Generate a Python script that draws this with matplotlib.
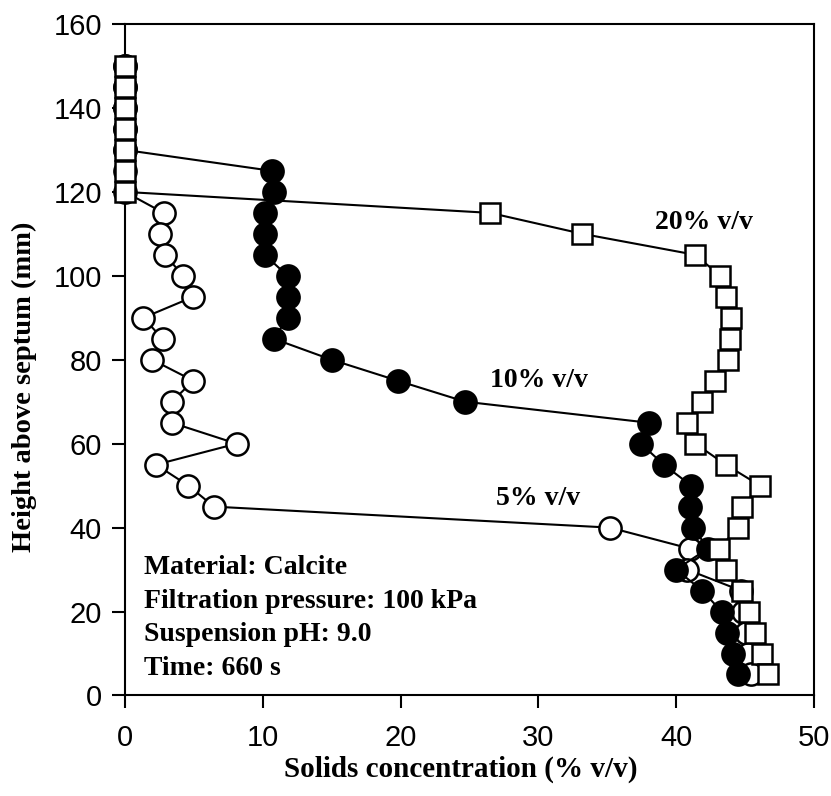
import numpy as np
import matplotlib
matplotlib.use('Agg')
import matplotlib.pyplot as plt

# heights above septum (mm) and solids concentration (% v/v) per feed concentration
h_5 = [150, 145, 140, 135, 130, 125, 120, 115, 110, 105, 100, 95, 90, 85, 80, 75,
       70, 65, 60, 55, 50, 45, 40, 35, 30, 25, 20, 15, 10, 5]
c_5 = [0, 0, 0, 0, 0, 0, 0, 2.8, 2.55, 2.9, 4.23, 4.96, 1.33, 2.73, 1.98, 4.96,
       3.39, 3.39, 8.1, 2.25, 4.6, 6.46, 35.2, 41.0, 40.8, 44.7, 44.85, 45.1, 45.2, 45.4]

h_10 = [150, 145, 140, 135, 130, 125, 120, 115, 110, 105, 100, 95, 90, 85, 80, 75,
        70, 65, 60, 55, 50, 45, 40, 35, 30, 25, 20, 15, 10, 5]
c_10 = [0, 0, 0, 0, 0, 10.7, 10.8, 10.15, 10.15, 10.15, 11.8, 11.8, 11.8, 10.8, 15.0, 19.8,
        24.7, 38.0, 37.45, 39.1, 41.1, 41.0, 41.25, 42.3, 40.0, 41.9, 43.3, 43.7, 44.1, 44.5]

h_20 = [150, 145, 140, 135, 130, 125, 120, 115, 110, 105, 100, 95, 90, 85, 80, 75,
        70, 65, 60, 55, 50, 45, 40, 35, 30, 25, 20, 15, 10, 5]
c_20 = [0, 0, 0, 0, 0, 0, 0, 26.5, 33.2, 41.4, 43.2, 43.6, 44.0, 43.9, 43.8, 42.85,
        41.85, 40.8, 41.4, 43.6, 46.1, 44.8, 44.5, 43.1, 43.65, 44.8, 45.3, 45.7, 46.2, 46.7]

info_lines = ['Material: Calcite', 'Filtration pressure: 100 kPa',
              'Suspension pH: 9.0', 'Time: 660 s']

serif = 'Liberation Serif'
sans = 'Liberation Sans'

fig = plt.figure(figsize=(8.31, 7.96), dpi=100)
ax = fig.add_axes([0.1504, 0.1263, 0.829, 0.8435])

lw = 1.5
ax.plot(c_5, h_5, '-o', color='black', lw=lw, ms=16, mfc='white', mec='black', mew=1.8,
        zorder=2, clip_on=False)
ax.plot(c_10, h_10, '-o', color='black', lw=lw, ms=16, mfc='black', mec='black', mew=1.8,
        zorder=3, clip_on=False)
ax.plot(c_20, h_20, '-s', color='black', lw=lw, ms=14, mfc='white', mec='black', mew=1.8,
        zorder=4, clip_on=False)

ax.set_xlim(0, 50)
ax.set_ylim(0, 160)
ax.set_xticks(np.arange(0, 51, 10))
ax.set_yticks(np.arange(0, 161, 20))
ax.tick_params(direction='out', length=9.5, width=1.5, labelsize=21)
ax.tick_params(axis='x', pad=11)
ax.tick_params(axis='y', pad=7)
for lab in ax.get_xticklabels() + ax.get_yticklabels():
    lab.set_fontfamily(sans)
for sp in ax.spines.values():
    sp.set_linewidth(1.5)

ax.set_xlabel('Solids concentration (% v/v)', fontfamily=serif, fontweight='bold', fontsize=21)
ax.set_ylabel('Height above septum (mm)', fontfamily=serif, fontweight='bold', fontsize=20.5)
ax.xaxis.set_label_coords(0.487, -0.09)
ax.yaxis.set_label_coords(-0.127, 0.46)

ax.text(38.5, 111.2, '20% v/v', fontfamily=serif, fontweight='bold', fontsize=20, va='baseline')
ax.text(26.5, 73.5, '10% v/v', fontfamily=serif, fontweight='bold', fontsize=20, va='baseline')
ax.text(26.9, 45.4, '5% v/v', fontfamily=serif, fontweight='bold', fontsize=20, va='baseline')

info_y = [28.9, 20.8, 12.9, 4.9]
for txt, yy in zip(info_lines, info_y):
    ax.text(1.38, yy, txt, fontfamily=serif, fontweight='bold', fontsize=20, va='baseline')

fig.savefig('out.png', dpi=100)
